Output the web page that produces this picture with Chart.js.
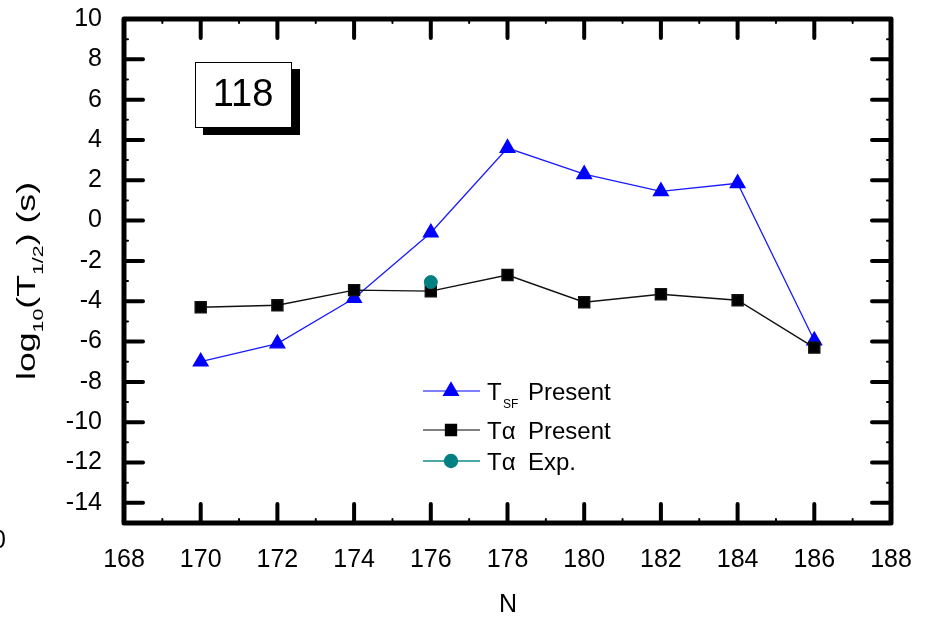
<!DOCTYPE html>
<html lang="en">
<head>
  <meta charset="UTF-8">
  <title>118 - log10(T1/2) vs N</title>
  <script src="https://cdn.jsdelivr.net/npm/chart.js"></script>
  <style>
    body { margin: 0; background: #fff; }
    #wrap { width: 925px; height: 621px; }
  </style>
</head>
<body>
  <div id="wrap"><canvas id="halfLife"></canvas></div>

  <script>
    // values
    const neutrons = [170, 172, 174, 176, 178, 180, 182, 184, 186];
    const tsfPresent = [-7.0, -6.1, -3.85, -0.6, 3.6, 2.3, 1.45, 1.85, -5.95];
    const talphaPresent = [-4.3, -4.2, -3.45, -3.5, -2.7, -4.05, -3.65, -3.95, -6.3];
    const expN = [176];
    const talphaExp = [-3.05];

    const xTicks = [168, 170, 172, 174, 176, 178, 180, 182, 184, 186, 188];
    const yTicks = [-14, -12, -10, -8, -6, -4, -2, 0, 2, 4, 6, 8, 10];

    const FONT = 'Arial, "Liberation Sans", sans-serif';

    function pts(xs, ys) {
      return xs.map((x, i) => ({ x: x, y: ys[i] }));
    }

    // frame, inward ticks on all four sides, minor ticks
    const framePlugin = {
      id: 'frame',
      afterDatasetsDraw(chart) {
        const ctx = chart.ctx;
        const a = chart.chartArea;
        const xs = chart.scales.x, ys = chart.scales.y;
        ctx.save();
        ctx.strokeStyle = '#000';
        ctx.lineCap = 'round';
        // major ticks
        ctx.lineWidth = 4;
        const L = 19;
        xTicks.forEach(v => {
          const px = xs.getPixelForValue(v);
          ctx.beginPath();
          ctx.moveTo(px, a.bottom); ctx.lineTo(px, a.bottom - L);
          ctx.moveTo(px, a.top); ctx.lineTo(px, a.top + L);
          ctx.stroke();
        });
        yTicks.forEach(v => {
          const py = ys.getPixelForValue(v);
          ctx.beginPath();
          ctx.moveTo(a.left, py); ctx.lineTo(a.left + L, py);
          ctx.moveTo(a.right, py); ctx.lineTo(a.right - L, py);
          ctx.stroke();
        });
        // minor ticks
        ctx.lineWidth = 2;
        for (let v = 169; v < 188; v += 2) {
          const px = xs.getPixelForValue(v);
          ctx.beginPath();
          ctx.moveTo(px, a.bottom); ctx.lineTo(px, a.bottom - 4);
          ctx.moveTo(px, a.top); ctx.lineTo(px, a.top + 4);
          ctx.stroke();
        }
        for (let v = -15; v < 10; v += 2) {
          const py = ys.getPixelForValue(v);
          ctx.beginPath();
          ctx.moveTo(a.left, py); ctx.lineTo(a.left + 4, py);
          ctx.moveTo(a.right, py); ctx.lineTo(a.right - 4, py);
          ctx.stroke();
        }
        // box
        ctx.lineWidth = 5;
        ctx.lineJoin = 'round';
        ctx.strokeRect(a.left, a.top, a.right - a.left, a.bottom - a.top);
        ctx.restore();
      },
      afterDraw(chart) {
        const ctx = chart.ctx;
        ctx.save();
        ctx.fillStyle = '#000';

        // x title
        ctx.font = '25px ' + FONT;
        ctx.textAlign = 'center';
        ctx.textBaseline = 'middle';
        ctx.fillText('N', 508, 605);

        // y title with subscripts (stretched along its length like the original)
        const parts = [
          ['log', 25, 0], ['10', 15, 8], ['(T', 25, 0], ['1/2', 15, 8], [') (s)', 25, 0]
        ];
        ctx.textAlign = 'left';
        ctx.textBaseline = 'alphabetic';
        let total = 0;
        parts.forEach(p => { ctx.font = p[1] + 'px ' + FONT; total += ctx.measureText(p[0]).width; });
        const stretch = 198 / total;
        ctx.translate(35, 281);
        ctx.rotate(-Math.PI / 2);
        ctx.scale(stretch, 1);
        let cx = -total / 2;
        parts.forEach(p => {
          ctx.font = p[1] + 'px ' + FONT;
          ctx.fillText(p[0], cx, p[2]);
          cx += ctx.measureText(p[0]).width;
        });
        ctx.setTransform(1, 0, 0, 1, 0, 0);

        // clipped label at the far left edge
        ctx.font = '25px ' + FONT;
        ctx.textAlign = 'left';
        ctx.textBaseline = 'middle';
        ctx.fillText('0', -8, 541);

        // "118" box with shadow
        ctx.fillStyle = '#000';
        ctx.fillRect(203, 69, 97, 66);
        ctx.fillStyle = '#fff';
        ctx.fillRect(195, 62, 97, 66);
        ctx.strokeStyle = '#000';
        ctx.lineWidth = 1;
        ctx.strokeRect(195.5, 62.5, 96, 65);
        ctx.fillStyle = '#000';
        ctx.font = '38px ' + FONT;
        ctx.textAlign = 'center';
        ctx.textBaseline = 'middle';
        ctx.fillText('118', 243, 96);

        // legend
        const rows = [
          { y: 391, line: '#5555ff', color: '#0000ff', style: 'triangle', r: 8.5, sub: 'SF', main: 'T', tail: 'Present' },
          { y: 430, line: '#555555', color: '#000000', style: 'rect', r: 7.8, sub: null, main: 'T\u03b1', tail: 'Present' },
          { y: 461, line: '#108a8a', color: '#008080', style: 'circle', r: 6.5, sub: null, main: 'T\u03b1', tail: 'Exp.' }
        ];
        rows.forEach(row => {
          ctx.strokeStyle = row.line;
          ctx.lineWidth = 1.3;
          ctx.beginPath();
          ctx.moveTo(423, row.y); ctx.lineTo(480, row.y);
          ctx.stroke();
          ctx.fillStyle = row.color;
          ctx.strokeStyle = row.color;
          Chart.helpers.drawPoint(ctx, { pointStyle: row.style, radius: row.r, rotation: 0, borderWidth: 1 }, 451, row.y);
          ctx.fillStyle = '#000';
          ctx.textAlign = 'left';
          ctx.textBaseline = 'alphabetic';
          ctx.font = '24px ' + FONT;
          ctx.fillText(row.main, 487, row.y + 9);
          if (row.sub) {
            ctx.font = '12px ' + FONT;
            ctx.fillText(row.sub, 503, row.y + 17);
          }
          ctx.font = '24px ' + FONT;
          ctx.fillText(row.tail, 528, row.y + 9);
        });
        ctx.restore();
      }
    };

    const ctx = document.getElementById('halfLife').getContext('2d');
    new Chart(ctx, {
      type: 'line',
      data: {
        datasets: [
          {
            label: 'T\u03b1 Exp.',
            data: pts(expN, talphaExp),
            borderColor: '#008080',
            backgroundColor: '#008080',
            pointStyle: 'circle',
            pointRadius: 6.5,
            showLine: false,
            order: 0
          },
          {
            label: 'T\u03b1 Present',
            data: pts(neutrons, talphaPresent),
            borderColor: '#111111',
            backgroundColor: '#000000',
            borderWidth: 1.4,
            pointStyle: 'rect',
            pointRadius: 7.8,
            order: 1
          },
          {
            label: 'TSF Present',
            data: pts(neutrons, tsfPresent),
            borderColor: '#1a1aff',
            backgroundColor: '#0000ff',
            pointBorderColor: '#0000ff',
            borderWidth: 1.3,
            pointStyle: 'triangle',
            pointRadius: 8.5,
            order: 2
          }
        ]
      },
      options: {
        responsive: true,
        maintainAspectRatio: false,
        animation: false,
        events: [],
        layout: { padding: { top: 19, right: 34, left: 0, bottom: 0 } },
        elements: { line: { tension: 0 }, point: { borderWidth: 1 } },
        plugins: {
          legend: { display: false },
          tooltip: { enabled: false }
        },
        scales: {
          x: {
            type: 'linear',
            min: 168,
            max: 188,
            afterFit: s => { s.height = 98; s.paddingLeft = 0; s.paddingRight = 0; },
            afterBuildTicks: s => { s.ticks = xTicks.map(v => ({ value: v })); },
            grid: { display: false, drawTicks: false },
            border: { display: false },
            ticks: {
              color: '#000',
              font: { family: FONT, size: 25 },
              padding: 22,
              maxRotation: 0,
              autoSkip: false
            }
          },
          y: {
            type: 'linear',
            min: -15,
            max: 10,
            afterFit: s => { s.width = 124; s.paddingTop = 0; s.paddingBottom = 0; },
            afterBuildTicks: s => { s.ticks = yTicks.map(v => ({ value: v })); },
            grid: { display: false, drawTicks: false },
            border: { display: false },
            ticks: {
              color: '#000',
              font: { family: FONT, size: 25 },
              padding: 22,
              autoSkip: false
            }
          }
        }
      },
      plugins: [framePlugin]
    });
  </script>
</body>
</html>
